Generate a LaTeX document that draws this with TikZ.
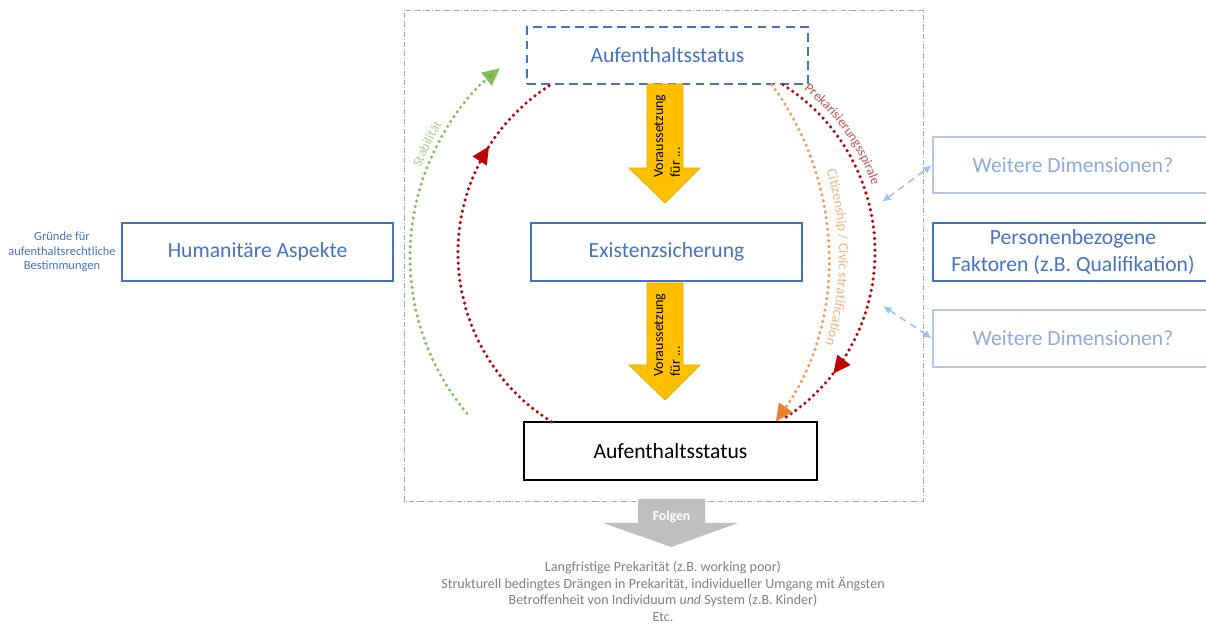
\documentclass[tikz,border=0pt]{standalone}
\usepackage{fontspec}
\setmainfont{Carlito}
\usetikzlibrary{arrows.meta, decorations.markings, decorations.text}
\definecolor{boxblue}{HTML}{4472C4}
\definecolor{paleblue}{HTML}{B4C7E7}
\definecolor{paletext}{HTML}{8FAADC}
\definecolor{linkblue}{HTML}{9DC3E6}
\definecolor{darkred}{HTML}{C00000}
\definecolor{precred}{HTML}{C0504D}
\definecolor{orangedots}{HTML}{EF9A5E}
\definecolor{orangehead}{HTML}{ED7D31}
\definecolor{orangetext}{HTML}{F4B183}
\definecolor{greendots}{HTML}{84BD5E}
\definecolor{greenhead}{HTML}{70AD47}
\definecolor{greentext}{HTML}{A9D18E}
\definecolor{gold}{HTML}{FFC000}
\definecolor{goldline}{HTML}{E3A600}
\definecolor{folgengray}{HTML}{BFBFBF}
\definecolor{notegray}{HTML}{808080}
\newcommand{\boxfont}{\fontsize{12.3}{14.8}\selectfont}
\newcommand{\arcfont}{\fontsize{7.6}{9}\selectfont}

\begin{document}
\begin{tikzpicture}[x=0.02cm, y=0.02cm,
		box/.style={draw=boxblue, line width=1.1pt, text=boxblue, font=\boxfont, inner sep=0pt, minimum height=1.16cm, align=center},
		fadebox/.style={box, draw=paleblue, text=paletext, minimum width=5.6cm, minimum height=1.13cm},
		dots/.style={line width=2pt, line cap=round, dash pattern=on 0pt off 3.3pt},
		reddots/.style={dots, draw=darkred},
		midarrow/.style={postaction={decorate, decoration={markings, mark=at position #1 with {\arrow{Triangle[length=10pt,width=9pt]}}}}},
		yarrow/.style={fill=gold, draw=goldline, line width=0.4pt},
		vtext/.style={rotate=90, align=left, font=\fontsize{8}{9.6}\selectfont, inner sep=0pt},
		link/.style={draw=linkblue, line width=0.9pt, dash pattern=on 4pt off 3pt, {Latex[length=5pt,width=4.5pt]}-{Latex[length=5pt,width=4.5pt]}}
	]
	\useasboundingbox (0,0) rectangle (1206,625);
	\draw[gray!70, line width=0.5pt, densely dash dot] (404,124) rectangle (923,615);

	\node[box, dashed, dash pattern=on 5pt off 3pt, minimum width=5.62cm, minimum height=1.14cm] (statusTop) at (667.5,569.5) {Aufenthaltsstatus};
	\node[box, minimum width=5.42cm] (existenz) at (666.5,373) {Existenzsicherung};
	\node[box, draw=black, text=black, minimum width=5.86cm] (statusBot) at (670.5,174) {Aufenthaltsstatus};
	\node[box, minimum width=5.42cm] (human) at (257.5,373) {Humanitäre Aspekte};
	\node[text=boxblue, align=center, font=\fontsize{7.1}{8.3}\selectfont] (gruende) at (62,373) {Gründe für\\aufenthaltsrechtliche\\Bestimmungen};
	\node[fadebox] (weiter1) at (1073,460) {Weitere Dimensionen?};
	\node[box, minimum width=5.6cm] (person) at (1073,373) {Personenbezogene\\Faktoren (z.B. Qualifikation)};
	\node[fadebox] (weiter2) at (1073,286.5) {Weitere Dimensionen?};

	\foreach \t/\h/\b in {541/457/422, 342/260/225} {
		\draw[yarrow] (647,\t) -- (683,\t) -- (683,\h) -- (700,\h) -- (665,\b) -- (629,\h) -- (647,\h) -- cycle;
	}
	\node[vtext] (voraus1) at (667,489) {Voraussetzung\\für ...};
	\node[vtext] (voraus2) at (667,290) {Voraussetzung\\für ...};

	\coordinate (cL) at (657,372);
	\coordinate (cG) at (653,368);
	\coordinate (cR) at (677,373);
	\coordinate (cO) at (539,369);
	\draw[dots, draw=greendots, -{Triangle[length=10pt,width=9pt,fill=greenhead]}] ([shift={(220:243)}]cG) arc[start angle=220, end angle=129, radius=243];
	\draw[reddots, midarrow=0.78] ([shift={(238:199)}]cL) arc[start angle=238, end angle=122, radius=199];
	\draw[reddots, midarrow=0.83] ([shift={(57.6:198)}]cR) arc[start angle=57.6, end angle=-57.5, radius=198];
	\draw[dots, draw=orangedots, -{Triangle[length=10pt,width=9pt,color=orangehead]}] ([shift={(36.3:289)}]cO) arc[start angle=36.3, end angle=-35, radius=289];

	\path[decorate, decoration={text along path, text={|\arcfont\color{greentext}|Stabilität}}] ([shift={(159:249)}]cG) arc[start angle=159, end angle=143, radius=249];
	\path[decorate, decoration={text along path, text={|\arcfont\color{precred}|Prekarisierungsspirale}}] ([shift={(52:206)}]cR) arc[start angle=52, end angle=14, radius=206];
	\path[decorate, decoration={text along path, text={|\fontsize{8}{9}\selectfont\color{orangetext}|Citizenship / Civic stratification}}] ([shift={(16.5:300)}]cO) arc[start angle=16.5, end angle=-21, radius=300];

	\coordinate (d1) at (882,423);
	\coordinate (d2) at (883,319);
	\draw[link] (d1) -- (weiter1.west);
	\draw[link] (d2) -- (weiter2.west);

	\draw[fill=folgengray, draw=none] (638,126) -- (705,126) -- (705,102) -- (738,102) -- (671.5,78) -- (603,102) -- (638,102) -- cycle;
	\node[text=white, font=\bfseries\fontsize{7.8}{9}\selectfont] (folgen) at (671.5,108) {Folgen};
	\node[text=notegray, align=center, font=\fontsize{8}{9.4}\selectfont] (notes) at (663,33.5) {Langfristige Prekarität (z.B. working poor)\\Strukturell bedingtes Drängen in Prekarität, individueller Umgang mit Ängsten\\Betroffenheit von Individuum \textit{und} System (z.B. Kinder)\\Etc.};
\end{tikzpicture}
\end{document}
